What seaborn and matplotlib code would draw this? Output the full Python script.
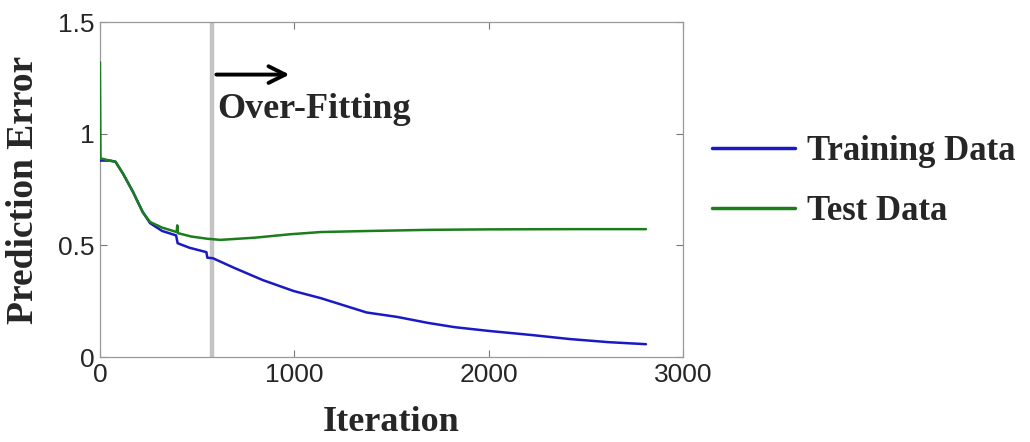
import matplotlib
matplotlib.use("Agg")
import matplotlib.pyplot as plt
import numpy as np
import pandas as pd
import seaborn as sns

# values
train_iter = [0, 50, 80, 120, 170, 220, 258, 320, 392, 400, 460, 548, 553, 581,
              690, 838, 997, 1137, 1372, 1530, 1690, 1827, 2005, 2222, 2418, 2618, 2810]
train_err = [0.88, 0.88, 0.875, 0.82, 0.74, 0.65, 0.60, 0.565, 0.545, 0.51, 0.49,
             0.47, 0.445, 0.443, 0.40, 0.345, 0.296, 0.264, 0.20, 0.18, 0.153,
             0.134, 0.117, 0.099, 0.081, 0.067, 0.058]

test_iter = [0, 3, 50, 80, 120, 170, 220, 258, 320, 395, 398, 402, 470, 553, 620,
             800, 977, 1135, 1393, 1700, 2000, 2400, 2810]
test_err = [1.32, 0.89, 0.88, 0.875, 0.82, 0.74, 0.65, 0.605, 0.58, 0.56, 0.59,
            0.555, 0.54, 0.53, 0.525, 0.535, 0.55, 0.56, 0.565, 0.57, 0.572,
            0.573, 0.573]

series_names = ["Training Data", "Test Data"]
overfit_start = 575
x_ticks = [0, 1000, 2000, 3000]
y_ticks = [0, 0.5, 1, 1.5]
y_tick_labels = ["0", "0.5", "1", "1.5"]

df = pd.concat([
    pd.DataFrame({"iter": train_iter, "err": train_err, "series": series_names[0]}),
    pd.DataFrame({"iter": test_iter, "err": test_err, "series": series_names[1]}),
])

sns.set_style("white")
plt.rcParams["font.family"] = ["Liberation Sans", "DejaVu Sans"]

fig = plt.figure(figsize=(10.3, 4.42), dpi=100)
ax = fig.add_axes([0.097, 0.192, 0.566, 0.758])

ax.axvline(overfit_start, color="#c4c4c4", lw=3.2, zorder=1)

sns.lineplot(data=df, x="iter", y="err", hue="series", estimator=None,
             palette=["#1a1ac4", "#1b7d1b"], lw=1.8, ax=ax, zorder=3)

ax.set_xlim(0, 3000)
ax.set_ylim(0, 1.5)
ax.set_xticks(x_ticks)
ax.set_xticklabels([str(t) for t in x_ticks])
ax.set_yticks(y_ticks)
ax.set_yticklabels(y_tick_labels)
ax.tick_params(direction="in", length=5, width=0.8, color="#777777",
               top=True, right=True, bottom=True, left=True,
               labelsize=19, pad=4)
for s in ax.spines.values():
    s.set_color("#999999")
    s.set_linewidth(0.9)

serif = ["Liberation Serif", "DejaVu Serif"]
ax.set_xlabel("Iteration", fontsize=26, family=serif, weight="bold", labelpad=14)
ax.set_ylabel("Prediction Error", fontsize=27, family=serif, weight="bold", labelpad=12)

ax.annotate("", xy=(990, 1.265), xytext=(585, 1.265),
            arrowprops=dict(arrowstyle="->", lw=2.8, color="black", mutation_scale=30))
ax.text(605, 1.11, "Over-Fitting", fontsize=26, family=serif, weight="bold",
        va="center", ha="left")

ax.legend(title=None, loc="center left", bbox_to_anchor=(0.691, 0.589),
          bbox_transform=fig.transFigure, frameon=False,
          borderpad=0, borderaxespad=0,
          prop={"family": serif, "weight": "bold", "size": 25},
          handlelength=2.4, handletextpad=0.35, labelspacing=0.78)
for line in ax.get_legend().get_lines():
    line.set_linewidth(2.5)

fig.savefig("out.png", dpi=100)
